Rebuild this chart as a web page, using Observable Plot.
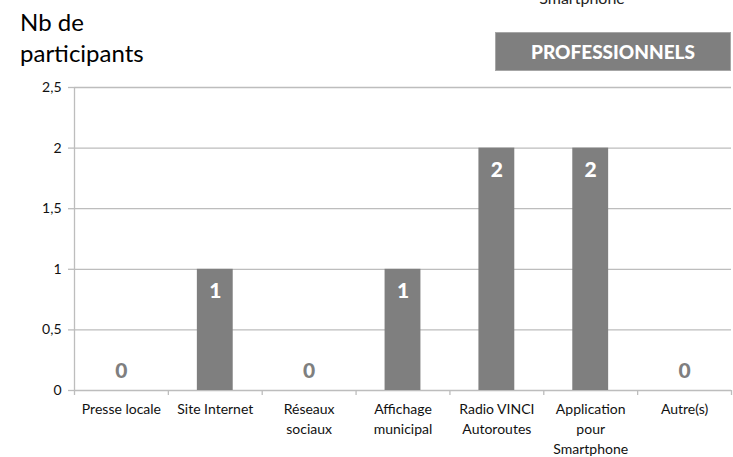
<!DOCTYPE html>
<html>
<head>
<meta charset="utf-8">
<script src="https://cdn.jsdelivr.net/npm/d3@7"></script>
<script src="https://cdn.jsdelivr.net/npm/@observablehq/plot@0.6"></script>
<style>
  html, body { margin: 0; padding: 0; background: #fff; }
  #wrap { position: relative; width: 733px; height: 457px; overflow: hidden; font-family: Lato, "Open Sans", sans-serif; }
  #wrap svg { position: absolute; left: 0; top: 0; }
  .title { position: absolute; left: 20px; top: 6px; font-size: 24px; line-height: 31px; color: #000; }
  .badge { position: absolute; left: 495px; top: 32px; width: 234px; height: 37px; background: #7f7f7f; border: 1px solid #a6a6a6; color: #fff; font-weight: 900; font-size: 19px; display: flex; align-items: center; justify-content: center; }
  .cut { position: absolute; left: 582px; top: -12px; transform: translateX(-50%); font-size: 16px; color: #222; white-space: nowrap; }
</style>
</head>
<body>
<div id="wrap">
  <div class="cut">Smartphone</div>
  <div class="title">Nb de<br>participants</div>
  <div class="badge">PROFESSIONNELS</div>
</div>
<script>
const categories = ["Presse locale", "Site Internet", "Réseaux\nsociaux", "Affichage\nmunicipal", "Radio VINCI\nAutoroutes", "Application\npour\nSmartphone", "Autre(s)"];
const values = [0, 1, 0, 1, 2, 2, 0];
const yTicks = [0, 0.5, 1, 1.5, 2, 2.5];

const data = categories.map((c, i) => ({ i, c, v: values[i] }));
const fr = d3.format(",.1~f");
const fmt = v => fr(v).replace(".", ",");

const chart = Plot.plot({
  width: 733,
  height: 457,
  marginLeft: 74,
  marginRight: 2,
  marginTop: 87,
  marginBottom: 67,
  style: { fontFamily: "Lato, 'Open Sans', sans-serif", fontSize: "14px", color: "#111", background: "transparent" },
  x: { type: "linear", domain: [0, categories.length], axis: null },
  y: { domain: [0, 2.5], axis: null },
  marks: [
    Plot.ruleY(yTicks, { y: d => d, x1: 0, x2: categories.length, stroke: "#bdbdbd", strokeWidth: 1.3 }),
    Plot.axisY({ ticks: yTicks, tickFormat: fmt, tickSize: 6, tickPadding: 7, stroke: "#bdbdbd", strokeWidth: 1.3, label: null, fontSize: 14 }),
    Plot.ruleX([0], { stroke: "#bdbdbd", strokeWidth: 1.3 }),
    Plot.rectY(data, { x1: "i", x2: d => d.i + 1, y: "v", insetLeft: 29, insetRight: 29, fill: "#7f7f7f" }),
    Plot.axisX({ ticks: d3.range(0, categories.length + 1), tickFormat: () => "", tickSize: 5, stroke: "#bdbdbd", strokeWidth: 1.3, label: null }),
    Plot.axisX({ ticks: d3.range(categories.length).map(i => i + 0.5), tickFormat: t => categories[Math.floor(t)], tickSize: 0, tickPadding: 10, lineHeight: 1.4, fontSize: 14, fill: "#111", label: null }),
    Plot.text(data, { x: d => d.i + 0.5, y: "v", text: d => String(d.v), fill: d => d.v > 0 ? "#fff" : "#7f7f7f", fontWeight: 900, fontSize: 21,
      render: (index, scales, values, dims, ctx, next) => {
        const g = next(index, scales, values, dims, ctx);
        d3.select(g).selectAll("text").each(function(_, k) {
          const d = data[index[k]];
          d3.select(this).attr("dy", d.v > 0 ? "17" : "-25").attr("dominant-baseline", "middle");
        });
        return g;
      } })
  ]
});
document.getElementById("wrap").prepend(chart);
</script>
</body>
</html>
